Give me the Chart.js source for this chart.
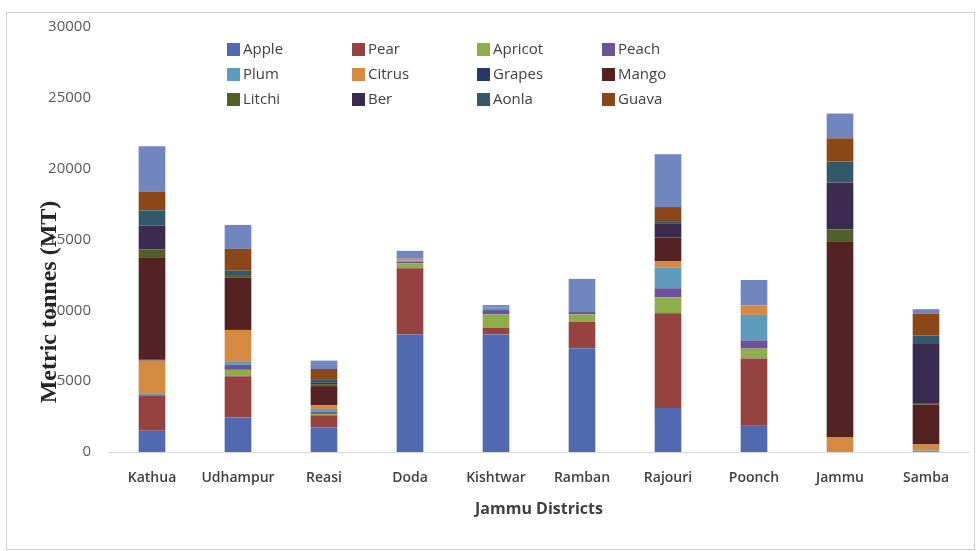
<!DOCTYPE html>
<html>
<head>
<meta charset="utf-8">
<script src="https://cdn.jsdelivr.net/npm/chart.js@4.4.1/dist/chart.umd.min.js"></script>
<style>
  html, body { margin: 0; padding: 0; background: #fff; }
  #wrap { width: 976px; height: 551px; position: relative; }
</style>
</head>
<body>
<div id="wrap"><canvas id="fruitChart" width="976" height="551"></canvas></div>
<script>
// districts on the x axis
const districts = ['Kathua', 'Udhampur', 'Reasi', 'Doda', 'Kishtwar', 'Ramban', 'Rajouri', 'Poonch', 'Jammu', 'Samba'];

// production per fruit (MT)
const apple   = [1500, 2430, 1730, 8300, 8300, 7330, 3100, 1900, 0, 0];
const pear    = [2500, 2920, 860, 4670, 480, 1850, 6690, 4700, 0, 0];
const apricot = [0, 450, 100, 340, 930, 530, 1140, 700, 0, 0];
const peach   = [0, 350, 150, 140, 310, 170, 630, 580, 0, 0];
const plum    = [100, 210, 200, 50, 200, 0, 1470, 1800, 0, 100];
const citrus  = [2350, 2260, 250, 140, 0, 0, 450, 670, 1020, 430];
const grapes  = [100, 0, 0, 0, 0, 0, 0, 0, 0, 0];
const mango   = [7200, 3670, 1360, 0, 0, 0, 1660, 0, 13860, 2810];
const litchi  = [560, 140, 140, 0, 0, 0, 0, 0, 840, 120];
const ber     = [1680, 0, 100, 0, 0, 0, 960, 0, 3310, 4160];
const aonla   = [1070, 370, 200, 0, 0, 0, 140, 0, 1470, 610];
const guava   = [1330, 1540, 770, 0, 0, 0, 1050, 0, 1640, 1520];
const others  = [3200, 1690, 590, 560, 150, 2340, 3730, 1790, 1750, 330]; // top segment, not in legend

const yTicks = [0, 5000, 10000, 15000, 20000, 25000, 30000];

const series = [
    ['Apple', apple, '#5169b0'],
    ['Pear', pear, '#964240'],
    ['Apricot', apricot, '#8eae4c'],
    ['Peach', peach, '#6b5299'],
    ['Plum', plum, '#5f9bbb'],
    ['Citrus', citrus, '#d58941'],
    ['Grapes', grapes, '#29386a'],
    ['Mango', mango, '#542223'],
    ['Litchi', litchi, '#4f6128'],
    ['Ber', ber, '#3a2a50'],
    ['Aonla', aonla, '#32586a'],
    ['Guava', guava, '#8a4717'],
    ['Others', others, '#7185bf']
];

// legend drawn in 4 columns x 3 rows, plus frame and y title
const extras = {
    id: 'extras',
    beforeDraw(chart) {
        const c = chart.ctx;
        c.save();
        c.strokeStyle = '#d0d0d0';
        c.lineWidth = 1;
        c.strokeRect(6.5, 12.5, 968, 537);
        c.restore();
    },
    afterDraw(chart) {
        const c = chart.ctx;
        c.save();
        const colX = [227, 352, 477, 602];
        const rowY = [49, 74, 99];
        c.font = '15px "Open Sans"';
        c.textBaseline = 'middle';
        chart.data.datasets.slice(0, 12).forEach((ds, i) => {
            const x = colX[i % 4], y = rowY[Math.floor(i / 4)];
            c.fillStyle = ds.backgroundColor;
            c.fillRect(x, y - 6, 13, 13);
            c.fillStyle = '#404040';
            c.fillText(ds.label, x + 16, y + 1);
        });
        // y axis title
        c.translate(56, 302);
        c.rotate(-Math.PI / 2);
        c.textAlign = 'center';
        c.textBaseline = 'alphabetic';
        c.font = 'bold 24px "Liberation Serif"';
        c.fillStyle = '#262626';
        c.fillText('Metric tonnes (MT)', 0, 0);
        c.restore();
    }
};

new Chart(document.getElementById('fruitChart'), {
    type: 'bar',
    data: {
        labels: districts,
        datasets: series.map(s => ({
            label: s[0],
            data: s[1],
            backgroundColor: s[2],
            borderWidth: 0,
            barPercentage: 0.62,
            categoryPercentage: 0.5
        }))
    },
    options: {
        responsive: false,
        animation: false,
        layout: { padding: { top: 24, right: 7, left: 0, bottom: 0 } },
        plugins: {
            legend: { display: false },
            tooltip: { enabled: false }
        },
        scales: {
            x: {
                stacked: true,
                grid: { display: false, drawTicks: false },
                border: { color: '#d9d9d9' },
                ticks: { color: '#404040', font: { family: 'Open Sans', size: 14, weight: '600' }, padding: 18 },
                title: {
                    display: true,
                    text: 'Jammu Districts',
                    color: '#404040',
                    font: { family: 'Open Sans', size: 16, weight: 'bold' },
                    padding: { top: 0, bottom: 32 }
                },
                afterFit(scale) { scale.height = 99; }
            },
            y: {
                stacked: true,
                min: 0,
                max: 30000,
                grid: { display: false, drawTicks: false },
                border: { display: false },
                afterBuildTicks(scale) { scale.ticks = yTicks.map(v => ({ value: v })); },
                ticks: {
                    color: '#595959',
                    font: { family: 'Open Sans', size: 15 },
                    padding: 18,
                    callback: v => String(v)
                },
                afterFit(scale) { scale.width = 109; }
            }
        }
    },
    plugins: [extras]
});
</script>
</body>
</html>
